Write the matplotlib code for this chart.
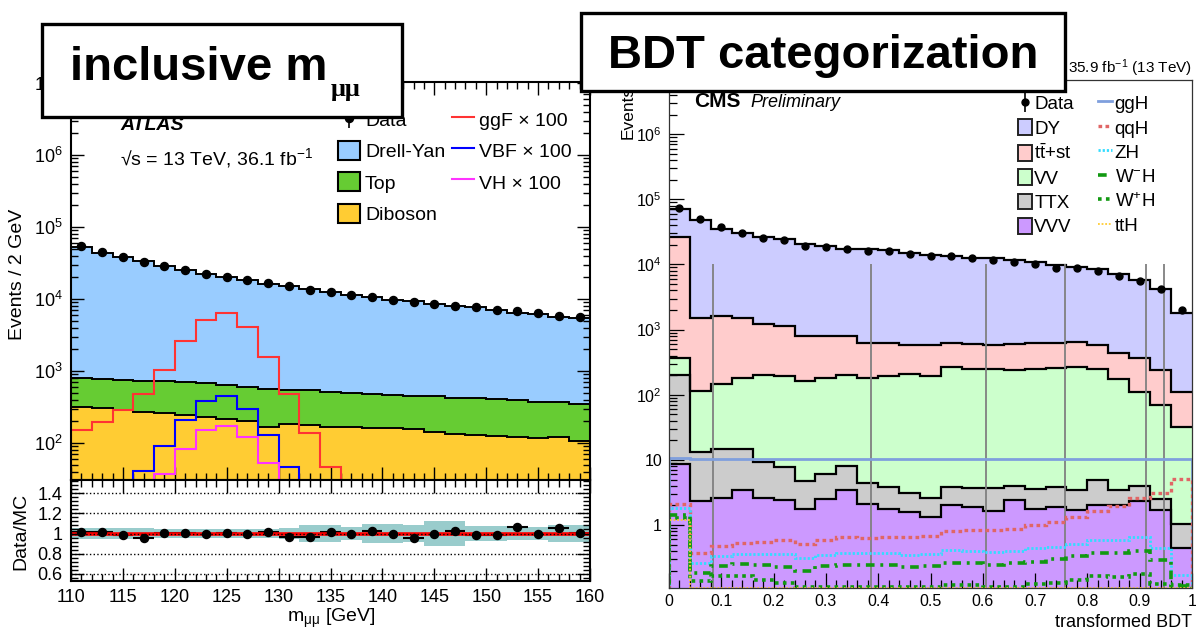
## H->mumu: ATLAS inclusive m_mumu vs CMS BDT categorization, side by side
import numpy as np
import matplotlib
matplotlib.use('Agg')
import matplotlib.pyplot as plt
from matplotlib.patches import Patch, Rectangle
from matplotlib.ticker import (MultipleLocator, LogLocator, NullFormatter,
                               FixedLocator, FuncFormatter, AutoMinorLocator)

plt.rcParams['font.family'] = 'Liberation Sans'
plt.rcParams['mathtext.fontset'] = 'custom'
plt.rcParams['mathtext.rm'] = 'Liberation Sans'
plt.rcParams['mathtext.it'] = 'Liberation Sans:italic'
plt.rcParams['mathtext.bf'] = 'Liberation Sans:bold'

## ATLAS, 2 GeV bins from 110 to 160
mmm_edges = np.arange(110, 162, 2)
atlas_data = [54300, 44900, 38200, 32200, 28600, 25400, 22400, 20100, 18100, 16600, 14900, 13300, 12400,
              11500, 10800, 9800, 9100, 8500, 8070, 7650, 7030, 6700, 6310, 5880, 5580]
atlas_dy = [52400, 43200, 38000, 32800, 27700, 24400, 21700, 19300, 17500, 15800, 14700, 13300, 11800,
            11000, 10100, 9350, 8900, 8100, 7450, 7250, 6700, 6050, 5900, 5300, 5150]
atlas_top = [490, 475, 458, 461, 456, 455, 438, 429, 397, 396, 369, 365, 350,
             331, 313, 304, 297, 302, 291, 287, 284, 269, 255, 244, 244]
atlas_diboson = [315, 305, 289, 270, 259, 245, 232, 213, 204, 168, 183, 175, 168,
                 164, 161, 161, 157, 143, 135, 130, 124, 122, 119, 122, 107]
atlas_ggf = [151, 193, 283, 474, 1030, 2590, 5170, 6290, 4070, 1575, 480, 137, 46,
             0, 0, 0, 0, 0, 0, 0, 0, 0, 0, 0, 0]
atlas_vbf = [0, 0, 0, 41, 90, 208, 382, 454, 301, 131, 47, 0, 0,
             0, 0, 0, 0, 0, 0, 0, 0, 0, 0, 0, 0]
atlas_vh = [0, 0, 0, 0, 37, 82, 151, 173, 120, 52, 0, 0, 0,
            0, 0, 0, 0, 0, 0, 0, 0, 0, 0, 0, 0]
atlas_ratio = [1.02, 1.02, 0.985, 0.96, 1.01, 1.01, 1.0, 1.01, 1.0, 1.02, 0.97, 0.966, 1.02,
               1.0, 1.03, 1.0, 0.96, 1.0, 1.03, 0.99, 0.99, 1.06, 1.0, 1.05, 1.01]
atlas_band = [0.05, 0.05, 0.05, 0.05, 0.045, 0.045, 0.045, 0.045, 0.045, 0.045, 0.055, 0.085, 0.085,
              0.06, 0.09, 0.09, 0.08, 0.12, 0.12, 0.07, 0.07, 0.06, 0.06, 0.08, 0.08]

## CMS, 25 bins of transformed BDT
bdt_edges = np.linspace(0, 1, 26)
cms_data = [74500, 49200, 37900, 30300, 25100, 23700, 19400, 18700, 17200, 16200, 16000, 14400, 13600,
            13600, 12400, 11700, 11100, 10200, 8890, 8890, 8000, 6610, 5610, 4220, 2030]
cms_dy = [43500, 46600, 32900, 28500, 24800, 23400, 19500, 18600, 16800, 16400, 16000, 14500, 13500,
          12800, 12200, 11800, 11100, 10300, 9140, 8550, 7790, 6670, 5520, 3980, 1720]
cms_ttst = [26330, 1385, 1455, 1321, 1018, 924, 627, 607, 588, 448, 431, 371, 381,
            360, 353, 345, 365, 375, 366, 380, 345, 258, 250, 170, 80]
cms_vv = [169, 102, 130, 164, 193, 188, 158, 177, 194, 175, 192, 203, 193,
          263, 248, 241, 236, 248, 257, 267, 240, 170, 108, 67.5, 31]
cms_ttx = [193, 10.7, 12.3, 11.4, 6.8, 5.3, 3.0, 3.6, 4.8, 2.3, 2.0, 1.5, 1.23,
           1.77, 1.79, 2.0, 1.57, 1.78, 1.93, 1.7, 2.9, 1.37, 1.63, 0.78, 0.59]
cms_vvv = [8.6, 2.31, 2.6, 3.5, 2.6, 2.4, 1.76, 2.5, 3.4, 2.1, 1.78, 1.6, 1.34,
           2.03, 1.87, 1.64, 2.43, 1.76, 1.87, 1.70, 2.03, 2.03, 2.37, 1.70, 0.44]
cms_ggh = [10.8, 10.4, 10.5, 10.3, 10.4, 10.5, 10.4, 10.3, 10.4, 10.3, 10.4, 10.3, 10.3,
           10.3, 10.4, 10.3, 10.4, 10.3, 10.2, 10.3, 10.3, 10.3, 10.3, 10.2, 10.3]
cms_qqh = [2.1, 0.375, 0.475, 0.535, 0.55, 0.59, 0.51, 0.59, 0.66, 0.64, 0.66, 0.65, 0.68,
           0.82, 0.84, 0.84, 0.88, 1.0, 1.12, 1.34, 1.64, 1.96, 2.57, 3.07, 5.05]
cms_zh = [1.8, 0.26, 0.33, 0.36, 0.36, 0.36, 0.31, 0.35, 0.375, 0.375, 0.37, 0.35, 0.36,
          0.41, 0.40, 0.385, 0.40, 0.44, 0.46, 0.52, 0.59, 0.59, 0.645, 0.45, 0.17]
cms_wmh = [1.43, 0.185, 0.234, 0.25, 0.24, 0.23, 0.20, 0.234, 0.24, 0.24, 0.24, 0.23, 0.234,
           0.26, 0.26, 0.24, 0.26, 0.27, 0.30, 0.33, 0.37, 0.37, 0.40, 0.29, 0.115]
cms_wph = [1.3, 0.137, 0.164, 0.164, 0.143, 0.127, 0.112, 0.11, 0.11, 0.11, 0.11, 0.11, 0.11,
           0.12, 0.12, 0.113, 0.113, 0.123, 0.127, 0.143, 0.164, 0.16, 0.176, 0.123, 0.12]
cms_tth = [1.19, 0.109, 0.109, 0.109, 0.109, 0.109, 0.109, 0.109, 0.109, 0.109, 0.109, 0.109, 0.109,
           0.109, 0.109, 0.109, 0.109, 0.109, 0.109, 0.109, 0.109, 0.109, 0.109, 0.109, 0.109]
bdt_cuts = [0.085, 0.386, 0.606, 0.758, 0.913, 0.947]

W, H = 1196, 630
fig = plt.figure(figsize=(W / 100, H / 100), dpi=100)


def rect(l, t, r, b):
    return [l / W, 1 - b / H, (r - l) / W, (b - t) / H]


def fx(x):
    return x / W


def fy(y):
    return 1 - y / H


def draw_stack(ax, edges, comps, colors, lw, floor):
    tops = np.cumsum(np.array(comps, dtype=float), axis=0)
    for k in range(len(comps)):
        base = np.full(len(edges) - 1, floor) if k == 0 else tops[k - 1]
        ax.stairs(tops[k], edges, baseline=base, fill=True, color=colors[k], zorder=1)
    for k in range(len(comps)):
        ax.stairs(tops[k], edges, baseline=None, color='k', lw=lw, zorder=1.5)


##### ATLAS main panel
ax1 = fig.add_axes(rect(71, 82, 590, 480))
ax2 = fig.add_axes(rect(71, 480, 590, 581))
mcen = 0.5 * (mmm_edges[1:] + mmm_edges[:-1])

atlas_cols = ['#ffcc33', '#66cc33', '#99ccff']
draw_stack(ax1, mmm_edges, [atlas_diboson, atlas_top, atlas_dy], atlas_cols, 1.4, 1e-3)
h_ggf = ax1.stairs(atlas_ggf, mmm_edges, color='#ff3333', lw=1.5, zorder=2)
h_vbf = ax1.stairs(atlas_vbf, mmm_edges, color='#0000ff', lw=1.5, zorder=2)
h_vh = ax1.stairs(atlas_vh, mmm_edges, color='#ff33ff', lw=1.5, zorder=2)
h_adata = ax1.errorbar(mcen, atlas_data, yerr=0, fmt='o', color='k', ms=5.8, elinewidth=1.2, zorder=3)

ax1.set_yscale('log')
ax1.set_xlim(110, 160)
ax1.set_ylim(30.6, 1.03e7)

for ax in (ax1, ax2):
    ax.xaxis.set_major_locator(MultipleLocator(5))
    ax.xaxis.set_minor_locator(MultipleLocator(1))
    ax.tick_params(which='both', direction='in', top=True, right=True, width=1.0, labelsize=13, pad=6)
    ax.tick_params(which='major', length=9.5)
    ax.tick_params(which='minor', length=5)
    for s in ax.spines.values():
        s.set_linewidth(1.5)
ax1.yaxis.set_major_locator(LogLocator(base=10, numticks=20))
ax1.yaxis.set_minor_locator(LogLocator(base=10, subs=np.arange(2, 10), numticks=20))
ax1.yaxis.set_minor_formatter(NullFormatter())
ax1.tick_params(labelbottom=False)

leg1 = ax1.legend([h_adata, Patch(fc=atlas_cols[2], ec='k', lw=1.5), Patch(fc=atlas_cols[1], ec='k', lw=1.5),
                   Patch(fc=atlas_cols[0], ec='k', lw=1.5), h_ggf, h_vbf, h_vh],
                  ['Data', 'Drell-Yan', 'Top', 'Diboson', 'ggF × 100', 'VBF × 100', 'VH × 100'],
                  ncol=2, loc='upper left', bbox_to_anchor=(fx(338), fy(110)), bbox_transform=fig.transFigure,
                  frameon=False, fontsize=14, borderpad=0, borderaxespad=0, handlelength=1.13,
                  handleheight=1.13, handletextpad=0.26, labelspacing=0.57, columnspacing=0.36)

fig.text(fx(120), fy(130), 'ATLAS', fontsize=14, fontweight='bold', fontstyle='italic', va='baseline')
fig.text(fx(120), fy(165), '√s = 13 TeV, 36.1 fb$^{-1}$', fontsize=14, va='baseline')

##### ATLAS ratio panel
ax2.stairs(1 + np.array(atlas_band), mmm_edges, baseline=1 - np.array(atlas_band), fill=True,
           color='#99cccc', zorder=1)
ax2.axhline(1, color='#ff0000', lw=2.6, zorder=2.5)
ax2.errorbar(mcen, atlas_ratio, xerr=1, yerr=0, fmt='none', ecolor='k', elinewidth=1.5, zorder=2)
ax2.plot(mcen, atlas_ratio, 'o', color='k', ms=5.8, zorder=3)
ax2.set_xlim(110, 160)
ax2.set_ylim(0.53, 1.53)
ax2.yaxis.set_major_locator(FixedLocator([0.6, 0.8, 1.0, 1.2, 1.4]))
ax2.yaxis.set_major_formatter(FuncFormatter(lambda v, p: '%g' % v))
ax2.yaxis.set_minor_locator(AutoMinorLocator(5))
ax2.grid(axis='y', which='major', ls=':', color='k', lw=1.0, zorder=1.2)
ax2.set_axisbelow(False)

fig.text(fx(18), fy(274), 'Events / 2 GeV', rotation=90, fontsize=14, ha='center', va='center')
fig.text(fx(21), fy(531), 'Data/MC', rotation=90, fontsize=14, ha='center', va='center')
fig.text(fx(331), fy(622), 'm$_{\\mathrm{μμ}}$ [GeV]', fontsize=14, ha='center', va='baseline')

##### CMS panel
ax3 = fig.add_axes(rect(669, 80, 1192, 588))
bcen = 0.5 * (bdt_edges[1:] + bdt_edges[:-1])
cms_cols = ['#cc99ff', '#cccccc', '#ccffcc', '#ffcccc', '#ccccff']
draw_stack(ax3, bdt_edges, [cms_vvv, cms_ttx, cms_vv, cms_ttst, cms_dy], cms_cols, 1.6, 1e-3)
ax3.vlines(bdt_cuts, 1e-3, 1e4, color='#808080', lw=1.3, zorder=2)

h_ggh = ax3.stairs(cms_ggh, bdt_edges, color='#7f9fdd', lw=2.0, zorder=2.5)
h_qqh = ax3.stairs(cms_qqh, bdt_edges, color='#e06666', lw=2.4, ls=(0, (1.1, 1.0)), zorder=2.5)
h_zh = ax3.stairs(cms_zh, bdt_edges, color='#33ddff', lw=2.0, ls=(0, (0.8, 0.7)), zorder=2.5)
h_wmh = ax3.stairs(cms_wmh, bdt_edges, color='#119911', lw=2.6, ls=(0, (2.4, 1.6, 0.8, 1.6)), zorder=2.5)
h_wph = ax3.stairs(cms_wph, bdt_edges, color='#119911', lw=2.6, ls=(0, (1.0, 1.2)), zorder=2.5)
h_tth = ax3.stairs(cms_tth, bdt_edges, color='#ffcc33', lw=1.3, ls=(0, (1.0, 1.0)), zorder=2.5)
h_cdata = ax3.errorbar(bcen, cms_data, yerr=0, fmt='o', color='k', ms=5, elinewidth=1.2, zorder=3)

ax3.set_yscale('log')
ax3.set_xlim(0, 1)
ax3.set_ylim(0.108, 6.8e6)
ax3.xaxis.set_major_locator(MultipleLocator(0.1))
ax3.xaxis.set_minor_locator(MultipleLocator(0.02))
ax3.xaxis.set_major_formatter(FuncFormatter(lambda v, p: '%g' % round(v, 2)))
ax3.yaxis.set_major_locator(LogLocator(base=10, numticks=20))
ax3.yaxis.set_minor_locator(LogLocator(base=10, subs=np.arange(2, 10), numticks=20))
ax3.yaxis.set_minor_formatter(NullFormatter())
ax3.yaxis.set_major_formatter(FuncFormatter(
    lambda v, p: '1' if abs(v - 1) < 1e-9 else ('10' if abs(v - 10) < 1e-9 else '$10^{%d}$' % round(np.log10(v)))))
ax3.tick_params(which='both', direction='in', width=0.9, labelsize=11.5)
ax3.tick_params(axis='x', which='major', length=11, pad=4)
ax3.tick_params(axis='y', which='major', length=11, pad=5)
ax3.tick_params(which='minor', length=5.5)
for s in ax3.spines.values():
    s.set_linewidth(0.9)
    s.set_color('#333333')

leg3 = ax3.legend([h_cdata, Patch(fc=cms_cols[4], ec='#222222', lw=1.4), Patch(fc=cms_cols[3], ec='#222222', lw=1.4),
                   Patch(fc=cms_cols[2], ec='#222222', lw=1.4), Patch(fc=cms_cols[1], ec='#222222', lw=1.4),
                   Patch(fc=cms_cols[0], ec='#222222', lw=1.4),
                   h_ggh, h_qqh, h_zh, h_wmh, h_wph, h_tth],
                  ['Data', 'DY', '$\\mathrm{t\\bar{t}}$+st', 'VV', 'TTX', 'VVV',
                   'ggH', 'qqH', 'ZH', 'W$^{-}$H', 'W$^{+}$H', 'ttH'],
                  ncol=2, loc='upper left', bbox_to_anchor=(fx(1018), fy(95)), bbox_transform=fig.transFigure,
                  frameon=False, fontsize=13.5, borderpad=0, borderaxespad=0, handlelength=0.75,
                  handleheight=0.9, handletextpad=0.12, labelspacing=0.325, columnspacing=1.3)

fig.text(fx(694), fy(107), 'CMS', fontsize=15, fontweight='bold', va='baseline')
fig.text(fx(750), fy(107), 'Preliminary', fontsize=13, fontstyle='italic', va='baseline')
fig.text(fx(1192), fy(73), '35.9 fb$^{-1}$ (13 TeV)', fontsize=11, ha='right', va='baseline')
fig.text(fx(628), fy(86), 'Events', rotation=90, fontsize=12.5, ha='center', va='top')
fig.text(fx(1192), fy(627), 'transformed BDT', fontsize=13, ha='right', va='baseline')

##### title boxes on top
fig.add_artist(Rectangle((fx(42), fy(117)), (402 - 42) / W, (117 - 24) / H, transform=fig.transFigure,
                         fc='white', ec='black', lw=2.4, zorder=10))
fig.text(fx(70), fy(80), 'inclusive m', fontsize=34, fontweight='bold', va='baseline', zorder=11)
fig.text(fx(331), fy(96), 'μμ', fontsize=19, fontweight='bold', family='Liberation Serif', va='baseline', zorder=11)

fig.add_artist(Rectangle((fx(581), fy(91)), (1065 - 581) / W, (91 - 13) / H, transform=fig.transFigure,
                         fc='white', ec='black', lw=2.4, zorder=10))
fig.text(fx(823), fy(68), 'BDT categorization', fontsize=34, fontweight='bold', ha='center', va='baseline',
         zorder=11)

fig.savefig('out.png', dpi=100)
